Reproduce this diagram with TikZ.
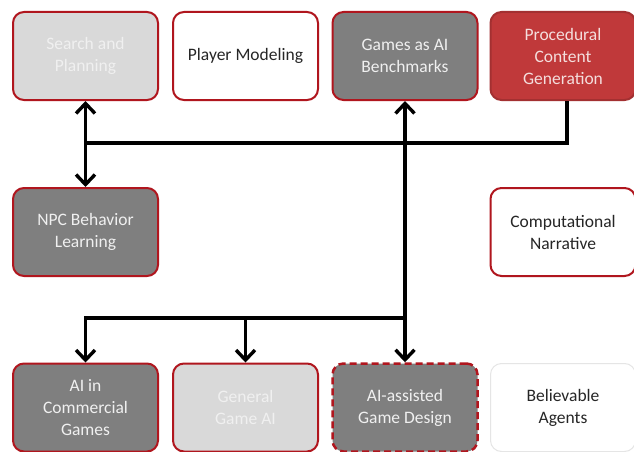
\documentclass[tikz,border=0pt]{standalone}
\usepackage{fontspec}
\setmainfont{Carlito}
\usetikzlibrary{arrows.meta}
\definecolor{bred}{HTML}{B0161E}
\definecolor{dgray}{HTML}{7F7F7F}
\definecolor{lgray}{HTML}{D9D9D9}
\definecolor{pcgred}{HTML}{C0393A}
\definecolor{ltext}{HTML}{F0F0F0}
\definecolor{ptext}{HTML}{F4DEDD}
\tikzset{
  box/.style={rectangle, rounded corners=11pt, minimum width=145pt, minimum height=88pt,
    align=center, font=\fontsize{17.5}{22}\selectfont, line width=2pt, draw=bred},
  darkbox/.style={box, fill=dgray, text=ltext},
  lightbox/.style={box, fill=lgray, text=ltext},
  whitebox/.style={box, fill=white, text=black!85},
  conn/.style={line width=3.5pt, draw=black, line join=miter},
  tip/.style={-{Straight Barb[length=10pt,width=19pt,line width=3.4pt]}},
}
\begin{document}
\begin{tikzpicture}[x=1pt,y=-1pt]
\useasboundingbox[fill=white] (0,0) rectangle (634,452);
% row 1
\node[lightbox] (search) at (85.5,56) {Search and\\Planning};
\node[whitebox] (player) at (245.5,56) {Player Modeling};
\node[darkbox] (bench) at (405,56) {Games as AI\\Benchmarks};
\node[box, fill=pcgred, draw=pcgred!85!black, text=ptext] (pcg) at (563,56) {Procedural\\Content\\Generation};
% row 2
\node[darkbox] (npc) at (85.5,232) {NPC Behavior\\Learning};
\node[whitebox] (narr) at (563,232) {Computational\\Narrative};
% row 3
\node[darkbox] (aicg) at (85.5,407.5) {AI in\\Commercial\\Games};
\node[lightbox] (ggai) at (245.5,407.5) {General\\Game AI};
\node[darkbox, dash pattern=on 7pt off 4pt, line width=2.5pt] (aiad) at (405,407.5) {AI-assisted\\Game Design};
\node[whitebox, draw=black!10, line width=1pt] (believ) at (563,407.5) {Believable\\Agents};
% junctions
\coordinate (j1) at (85.5,143);
\coordinate (j2) at (405,318);
% connectors
\draw[conn] ([xshift=4pt]pcg.south) |- (j1);
\draw[conn, tip] (j1) -- (search.south);
\draw[conn, tip] (j1) -- (npc.north);
\draw[conn, tip] (j2) -- (bench.south);
\draw[conn, tip] (j2) -- (aiad.north);
\draw[conn, tip] (j2) -| (aicg.north);
\draw[conn, tip] (ggai.north |- j2) -- (ggai.north);
\end{tikzpicture}
\end{document}
